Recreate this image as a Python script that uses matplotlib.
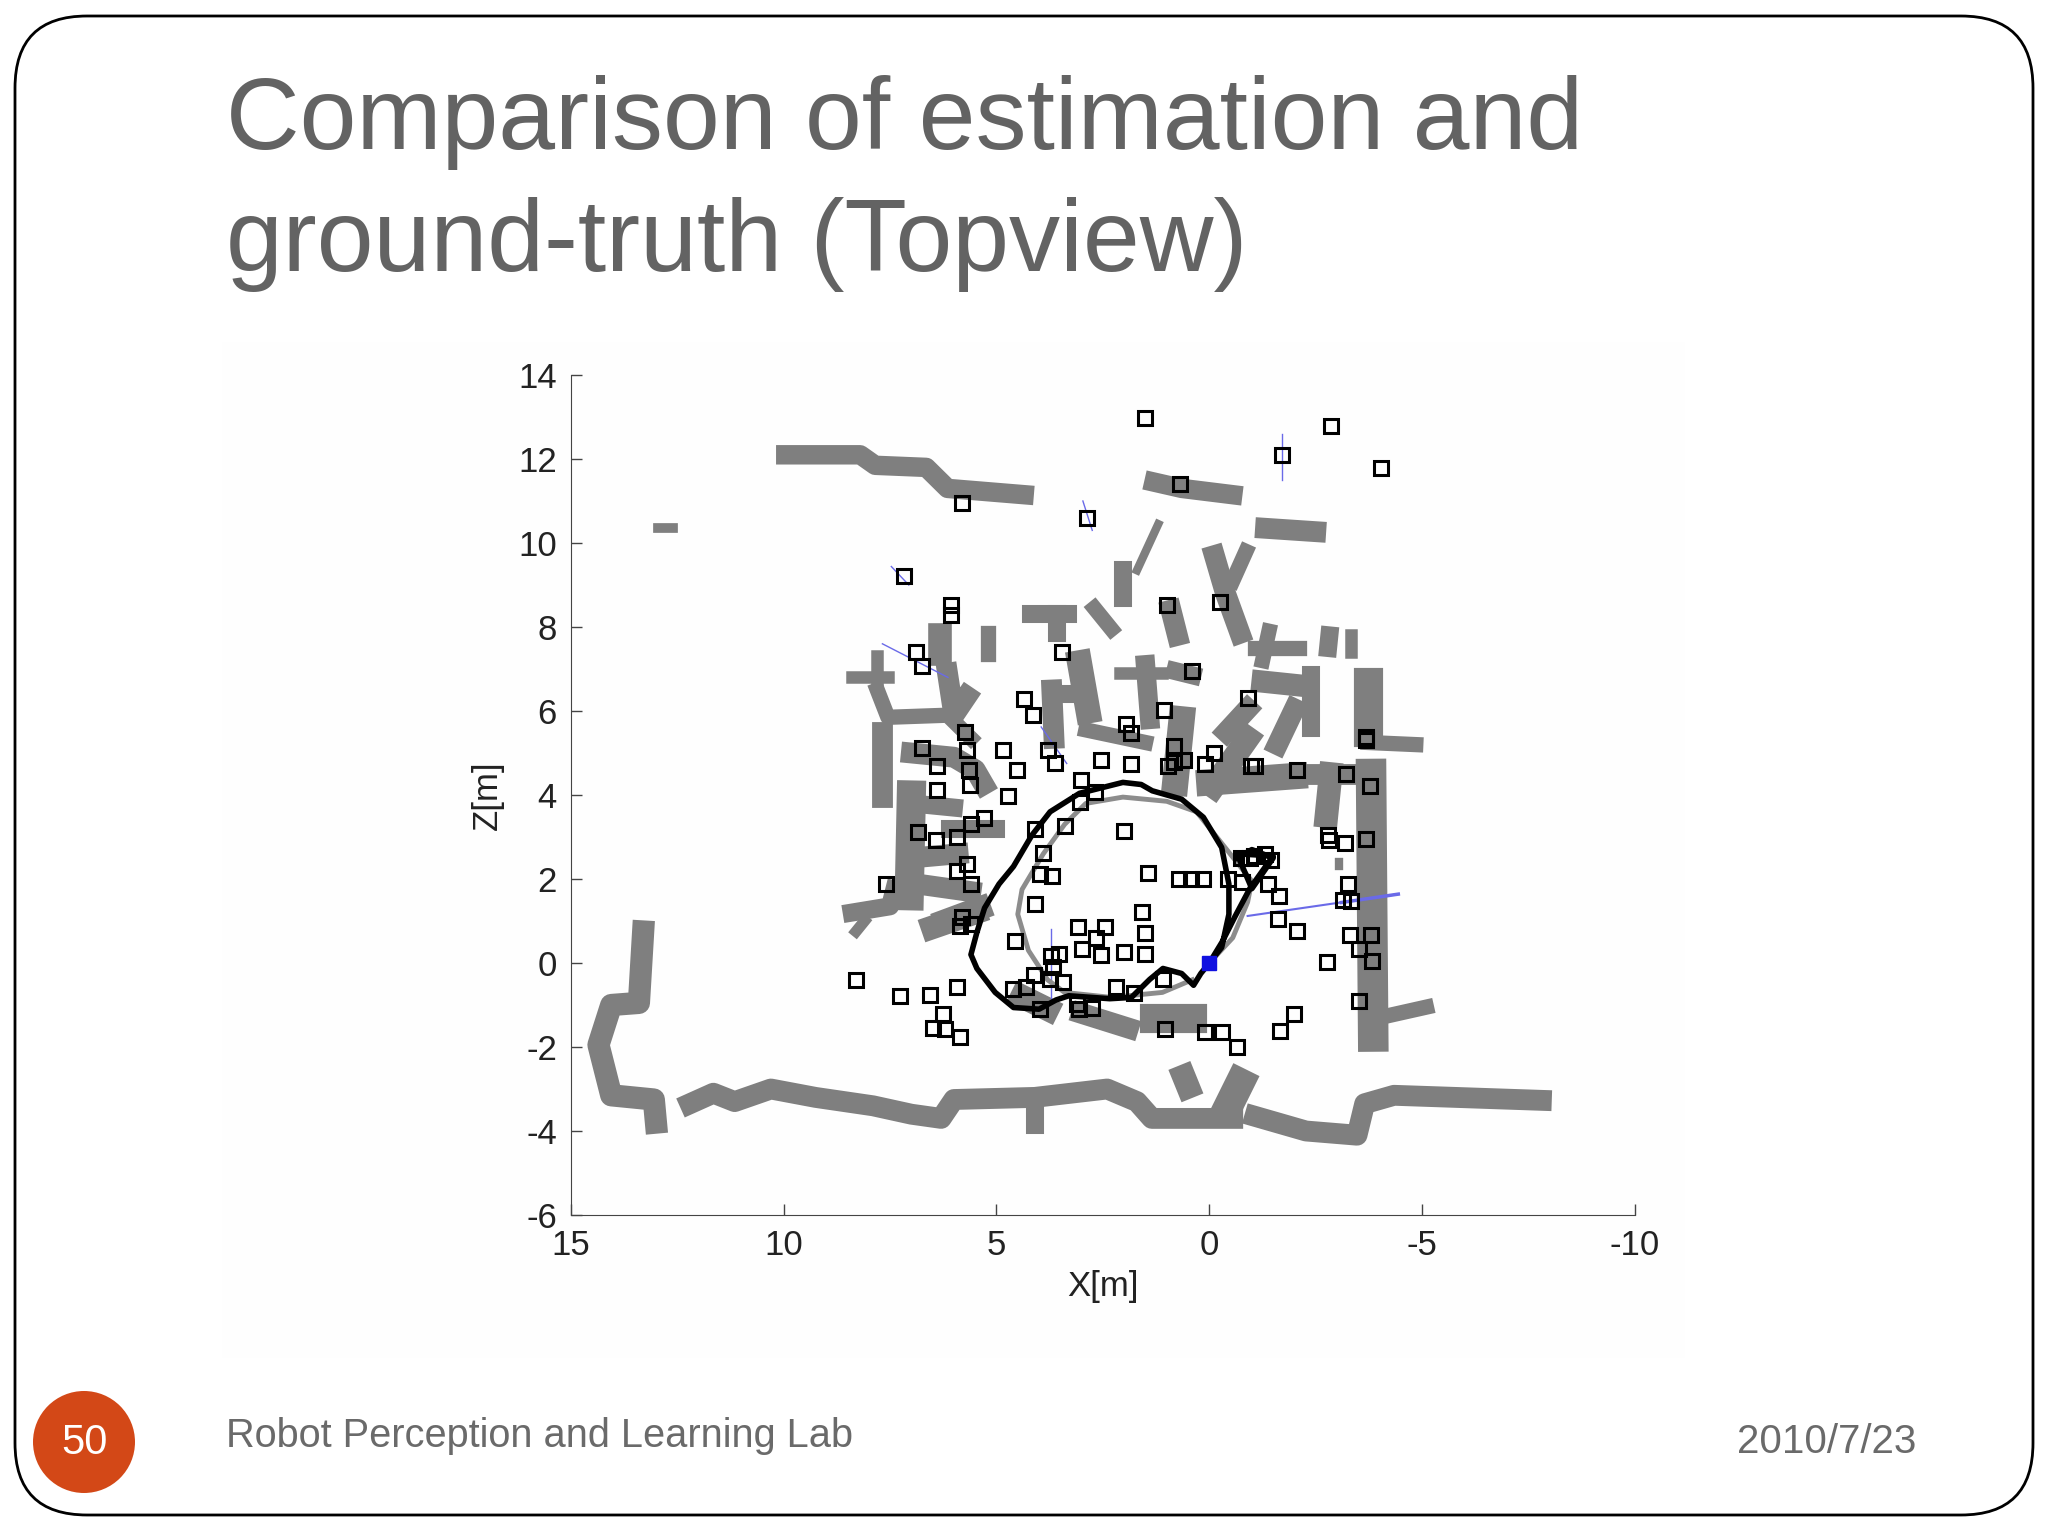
import matplotlib
matplotlib.use('Agg')
import matplotlib.pyplot as plt
from matplotlib.patches import FancyBboxPatch, Circle, Rectangle

plt.rcParams['font.family'] = ['Liberation Sans', 'DejaVu Sans']
plt.rcParams['axes.unicode_minus'] = False

title_lines = ['Comparison of estimation and', 'ground-truth (Topview)']
footer = 'Robot Perception and Learning Lab'
date = '2010/7/23'
page = '50'

# landmark estimates X, Z
mark_x = [1.51, -2.87, -1.70, -4.04, 0.69, 5.82, 2.87, 7.18, 6.08, 6.08, 1.0, -0.26, 6.88, 6.76, 3.46, 0.40,
          4.35, 4.15, 1.07, -0.90, 1.96, 1.84, -3.68, -3.68, 5.75, 6.76, 5.70, 4.85, 3.79, 0.84, -0.12, 3.63,
          2.55, 1.84, 0.98, 0.83, 0.60, 0.09, -0.98, -1.07, -2.07, 6.40, 5.65, 4.51, 5.63, 6.40, 4.72, 3.01,
          2.69, 3.03, -3.22, -3.77, 5.30, 5.59, 4.10, 3.39, 2.00, 6.85, 6.42, 5.92, -2.79, -2.81, -3.18, -3.67,
          3.91, 5.70, 5.92, 3.98, 3.70, 1.43, 0.72, 0.43, 0.14, -0.45, -0.77, 7.59, 5.59, -1.38, -1.64, -3.25,
          -3.13, -3.34, 4.10, 1.58, 5.82, 5.85, 5.59, 3.08, 2.44, -1.62, -2.07, 1.50, 2.67, 4.56, -3.30, -3.79,
          2.98, 2.55, 2.01, 1.50, -3.51, -3.82, -2.77, 3.72, 3.53, 3.67, 4.13, 3.75, 3.43, 4.61, 4.30, 2.20,
          1.76, 1.08, 8.31, 7.26, 6.56, 5.92, -3.51, 3.12, 3.05, 2.75, 3.98, 6.25, 6.49, 6.20, 5.85, 1.03,
          0.09, -0.29, -0.65, -1.67, -2.0, -0.75, -1.05, -1.3, -1.45, -0.95]
mark_z = [12.98, 12.79, 12.09, 11.78, 11.41, 10.95, 10.59, 9.21, 8.52, 8.29, 8.52, 8.60, 7.41, 7.08, 7.41, 6.95,
          6.29, 5.91, 6.03, 6.32, 5.70, 5.47, 5.31, 5.38, 5.51, 5.11, 5.06, 5.06, 5.06, 5.17, 5.01, 4.76,
          4.83, 4.73, 4.68, 4.79, 4.83, 4.75, 4.68, 4.68, 4.60, 4.68, 4.60, 4.60, 4.24, 4.13, 3.97, 4.36,
          4.07, 3.83, 4.49, 4.22, 3.45, 3.32, 3.18, 3.27, 3.15, 3.11, 2.94, 2.99, 3.04, 2.92, 2.85, 2.96,
          2.62, 2.36, 2.19, 2.12, 2.07, 2.14, 1.99, 1.99, 1.99, 2.01, 1.94, 1.88, 1.87, 1.87, 1.60, 1.87,
          1.51, 1.48, 1.41, 1.21, 1.09, 0.88, 0.92, 0.86, 0.86, 1.04, 0.76, 0.71, 0.59, 0.52, 0.66, 0.66,
          0.33, 0.20, 0.26, 0.22, 0.33, 0.04, 0.03, 0.17, 0.22, -0.10, -0.29, -0.39, -0.46, -0.62, -0.58, -0.56,
          -0.71, -0.39, -0.40, -0.79, -0.75, -0.56, -0.91, -0.98, -1.09, -1.06, -1.09, -1.22, -1.54, -1.57, -1.76, -1.57,
          -1.65, -1.64, -1.99, -1.63, -1.21, 2.5, 2.55, 2.6, 2.45, 2.5]

# estimated path (black) and ground truth (gray)
est_x = [0.0, 0.2, 0.37, 0.65, 1.09, 1.4, 1.83, 2.34, 3.3, 3.6, 4.0, 4.6, 5.03, 5.46, 5.6, 5.46, 5.28, 4.94, 4.6,
         4.17, 3.74, 3.05, 2.03, 1.6, 1.34, 0.65, 0.14, -0.29, -0.46, -0.46, -0.29, 0.0, -0.3, -0.6, -0.95,
         -1.5, -0.65, -1.0, -1.5, -1.0, -0.65]
est_z = [0.0, -0.25, -0.53, -0.25, -0.13, -0.39, -0.82, -0.85, -0.78, -0.88, -1.1, -1.06, -0.7, -0.13, 0.2, 0.73, 1.31,
         1.88, 2.3, 3.04, 3.6, 4.04, 4.3, 4.25, 4.1, 3.9, 3.47, 2.75, 1.88, 1.16, 0.37, 0.0, 0.5, 1.1, 1.77,
         2.55, 2.6, 1.77, 2.5, 2.7, 2.5]
true_x = [0.0, -0.55, -0.9, -1.0, 0.3, 1.0, 2.03, 2.9, 3.4, 3.9, 4.4, 4.5, 4.25, 3.8, 3.4, 2.3, 1.1, 0.4]
true_z = [0.0, 0.6, 1.45, 1.95, 3.6, 3.85, 3.95, 3.8, 3.3, 2.6, 1.75, 1.16, 0.3, -0.4, -0.7, -0.82, -0.7, -0.4]

# uncertainty whiskers
whisker_x = [(7.68, 6.14), (3.95, 3.35), (3.72, 3.72), (-0.9, -4.44), (-3.1, -4.44), (-1.7, -1.7), (2.97, 2.75), (7.47, 7.06)]
whisker_z = [(7.6, 6.8), (5.62, 4.75), (0.8, -0.92), (1.12, 1.64), (1.44, 1.64), (12.6, 11.5), (11.0, 10.3), (9.44, 9.0)]
whisker_w = [1, 1, 1, 1.5, 2.5, 1, 1, 1]

# occupancy strips: x list, z list, width
wall_x = [
    [9.95, 8.2, 7.85, 6.65, 6.15, 4.35], [1.3, 0.65, -0.55], [-1.32, -2.5], [12.95, 12.6], [1.2, 1.7], [2.03, 2.03],
    [-0.12, -0.38, -0.72], [-0.86, -0.55], [2.7, 2.3], [4.18, 3.32], [3.58, 3.58], [0.9, 0.75], [5.2, 5.2], [6.33, 6.33],
    [-1.4, -1.25], [-1.07, -2.1], [-2.82, -2.79], [-3.34, -3.34], [8.4, 7.55], [7.8, 7.8], [7.8, 7.55, 6.15, 5.6],
    [6.15, 6.0, 5.7], [7.7, 7.7], [7.0, 6.0, 5.5, 5.3], [7.0, 7.05], [7.0, 6.0], [6.1, 5.0], [7.0, 5.9], [7.0, 5.6],
    [8.4, 7.5, 7.4], [8.3, 8.1], [6.5, 5.5], [6.2, 5.4], [3.05, 2.85], [3.7, 3.65], [3.65, 2.9], [2.9, 1.5], [1.5, 1.4],
    [2.1, 1.1], [0.8, 0.4], [0.65, 0.8], [-1.25, -2.2], [-2.4, -2.4], [-2.0, -1.6], [-0.9, -0.4], [-0.9, -0.1], [0.0, -2.0],
    [-3.73, -3.73], [-3.73, -4.85], [-2.45, -3.4], [-2.85, -2.75], [-3.8, -3.85], [-4.0, -5.1], [3.0, 1.9], [1.3, 0.4],
    [4.4, 3.8], [13.3, 13.4, 14.05, 14.35, 14.05, 13.05, 13.0],
    [12.2, 11.65, 11.15, 10.3, 9.25, 7.9, 7.0, 6.3, 6.0, 4.1, 2.4, 1.7, 1.35, -0.55],
    [-1.07, -2.27, -3.47, -3.65, -4.34, -7.8], [-0.72, -0.5], [0.6, 0.5], [4.1, 4.1], [-3.05, -3.05]]
wall_z = [
    [12.1, 12.1, 11.85, 11.8, 11.3, 11.15], [11.45, 11.3, 11.15], [10.35, 10.27], [10.35, 10.35], [10.45, 9.35], [9.35, 8.7],
    [9.7, 8.8, 7.85], [9.8, 9.1], [8.45, 7.95], [8.3, 8.3], [8.3, 7.85], [8.4, 7.8], [7.85, 7.35], [7.8, 7.35],
    [7.9, 7.2], [7.5, 7.5], [7.8, 7.5], [7.8, 7.4], [6.8, 6.8], [7.3, 6.7], [6.5, 5.85, 5.9, 5.35],
    [6.9, 5.9, 6.35], [5.5, 3.95], [5.0, 4.9, 4.6, 4.25], [4.0, 1.6], [3.8, 3.7], [3.2, 3.2], [2.5, 2.6], [1.9, 1.7],
    [1.2, 1.35, 1.75], [0.75, 1.0], [0.85, 1.2], [1.0, 1.3], [7.15, 6.0], [6.5, 5.35], [6.4, 6.4], [5.55, 5.25], [7.1, 5.8],
    [6.9, 6.9], [6.95, 6.85], [5.8, 4.3], [6.7, 6.6], [6.85, 5.6], [6.05, 5.2], [6.05, 5.5], [5.35, 4.2], [4.3, 4.45],
    [6.7, 5.5], [5.25, 5.2], [4.5, 4.5], [4.5, 3.5], [4.5, -1.75], [-1.3, -1.05], [-1.2, -1.55], [-1.3, -1.3],
    [-0.8, -1.1], [0.75, -0.95, -1.0, -1.95, -3.15, -3.25, -3.8],
    [-3.35, -3.1, -3.3, -3.0, -3.2, -3.4, -3.6, -3.7, -3.25, -3.2, -3.0, -3.3, -3.7, -3.7],
    [-3.65, -4.0, -4.1, -3.35, -3.15, -3.27], [-2.85, -3.3], [-2.7, -2.95], [-3.3, -3.85], [2.4, 2.3]]
wall_w = [14, 14, 15, 7, 6, 13, 15, 11, 11, 13, 13, 15, 11, 17, 11, 11, 13, 9, 9, 9, 11, 15, 15, 15, 21, 13, 13, 15, 15,
          13, 8, 17, 17, 18, 15, 13, 11, 14, 9, 13, 19, 16, 13, 15, 15, 17, 19, 21, 11, 15, 17, 22, 11, 15, 21, 17, 16,
          15, 15, 21, 17, 13, 6]

fig = plt.figure(figsize=(20.48, 15.36), dpi=100, facecolor='white')

# slide background, everything in pixels
bg = fig.add_axes([0, 0, 1, 1])
bg.set_xlim(0, 2048)
bg.set_ylim(1536, 0)
bg.axis('off')
bg.add_patch(FancyBboxPatch((15, 16), 2018, 1499, boxstyle='round,pad=0,rounding_size=72',
                            fc='white', ec='black', lw=2))
bg.add_patch(Rectangle((222, 342), 1463, 1016, fc='#FEFEFE', ec='none'))
bg.add_patch(Circle((84, 1442), 51, fc='#D34817', ec='none'))
bg.text(84, 1443, page, color='white', fontsize=30, ha='center', va='center')
for i in range(len(title_lines)):
    bg.text(226, 123 + i * 122, title_lines[i], color='#636363', fontsize=73.5, va='center', ha='left')
bg.text(226, 1436, footer, color='#6A6A6A', fontsize=28.6, va='center', ha='left')
bg.text(1916, 1442, date, color='#6A6A6A', fontsize=29, va='center', ha='right')

ax = fig.add_axes([570.8 / 2048, 1 - 1215 / 1536, 1064.2 / 2048, 840 / 1536])
ax.patch.set_alpha(0)
for i in range(len(wall_x)):
    ax.plot(wall_x[i], wall_z[i], color='#7F7F7F', lw=wall_w[i], solid_capstyle='projecting', solid_joinstyle='round')
for i in range(len(whisker_x)):
    ax.plot(whisker_x[i], whisker_z[i], color='#6A6AE8', lw=whisker_w[i])
ax.plot(true_x, true_z, color='#8C8C8C', lw=3.5)
ax.plot(est_x, est_z, color='black', lw=4)
ax.plot(mark_x, mark_z, ls='none', marker='s', ms=9.5, mfc='none', mec='black', mew=2.2)
ax.plot([0], [0], ls='none', marker='s', ms=10, color='#1010E0')

ax.set_xlim(15, -10)
ax.set_ylim(-6, 14)
ax.set_xticks([15, 10, 5, 0, -5, -10])
ax.set_yticks(range(-6, 16, 2))
ax.tick_params(direction='in', length=8, width=1, color='#444444', labelsize=25, labelcolor='#222222', pad=10)
ax.spines['top'].set_visible(False)
ax.spines['right'].set_visible(False)
ax.spines['left'].set_color('#444444')
ax.spines['bottom'].set_color('#444444')
ax.set_xlabel('X[m]', fontsize=25, color='#222222', labelpad=6)
ax.set_ylabel('Z[m]', fontsize=25, color='#222222', labelpad=10)

plt.savefig('out.png', dpi=100)
